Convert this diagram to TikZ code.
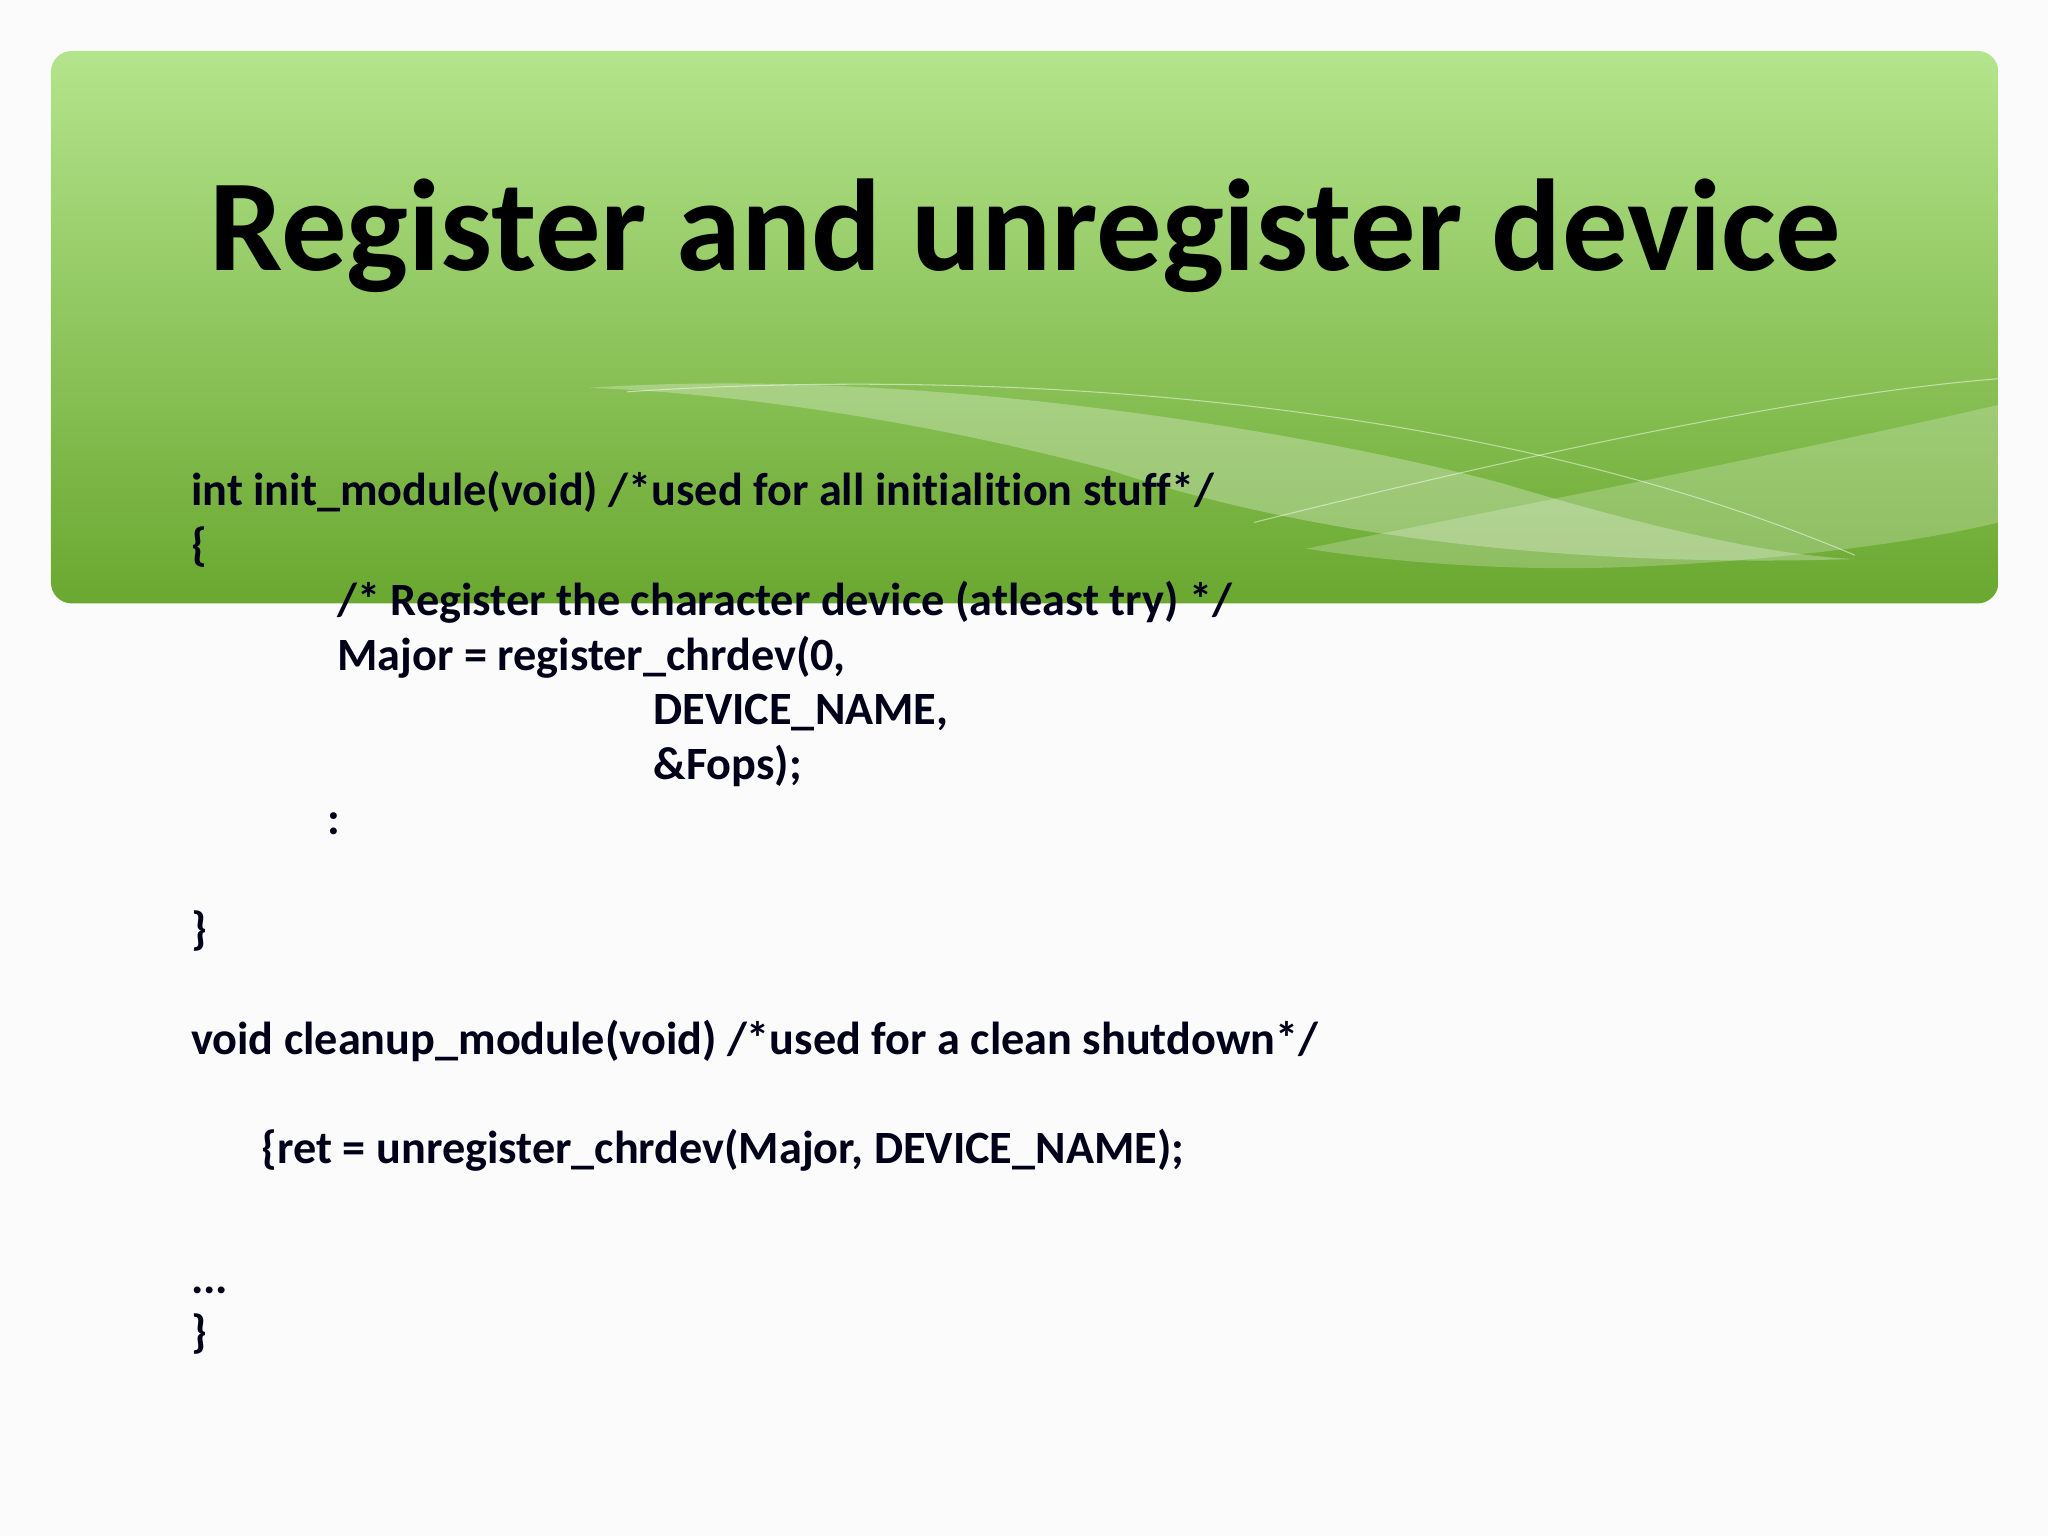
\documentclass[tikz,border=0pt]{standalone}
\usepackage{fontspec}
\setmainfont[RawFeature={-liga}]{Carlito}
\begin{document}
\begin{tikzpicture}[x=0.5pt,y=-0.5pt,
  code/.style={anchor=base west,inner sep=0pt,font=\fontsize{17.7}{21}\selectfont\bfseries,text=black!90!blue}]
\useasboundingbox (0,0) rectangle (1568,1176);
\fill[white!97!gray] (0,0) rectangle (1568,1176);
\definecolor{gtop}{RGB}{180,228,140}
\definecolor{gbot}{RGB}{106,168,48}
\shade[top color=gtop,bottom color=gbot,rounded corners=8pt] (39,39) rectangle (1530,462);
% waves
\begin{scope}
\clip[rounded corners=8pt] (39,39) rectangle (1530,462);
\fill[white,opacity=0.28] (450,297) .. controls (700,280) and (1000,330) .. (1150,370) .. controls (1250,400) and (1350,425) .. (1420,428) .. controls (1200,435) and (1000,410) .. (850,360) .. controls (700,320) and (550,300) .. (450,297) -- cycle;
\fill[white,opacity=0.22] (1000,420) .. controls (1200,380) and (1400,340) .. (1530,310) -- (1530,400) .. controls (1450,420) and (1300,435) .. (1200,435) .. controls (1120,435) and (1050,428) .. (1000,420) -- cycle;
\draw[white,opacity=0.5] (480,300) .. controls (700,285) and (1100,290) .. (1420,425);
\draw[white,opacity=0.5] (960,400) .. controls (1200,340) and (1400,300) .. (1530,290);
\end{scope}
\node[anchor=base west,inner sep=0pt,font=\fontsize{50}{58}\selectfont\bfseries] (title) at (160,207) {Register and unregister device};
\node[code] (l1) at (146,387) {int init\_module(void) /*used for all initialition stuff*/};
\node[code] (l2) at (146,429) {\{};
\node[code] (l3) at (258,471) {/* Register the character device (atleast try) */};
\node[code] (l4) at (258,513) {Major = register\_chrdev(0,};
\node[code] (l5) at (500,555) {DEVICE\_NAME,};
\node[code] (l6) at (500,597) {\&Fops);};
\node[code] (l7) at (250,639) {:};
\node[code] (l8) at (146,723) {\}};
\node[code] (l9) at (146,807) {void cleanup\_module(void) /*used for a clean shutdown*/};
\node[code] (l10) at (200,891) {\{ret = unregister\_chrdev(Major, DEVICE\_NAME);};
\node[code] (l11) at (146,990) {...};
\node[code] (l12) at (146,1032) {\}};
\end{tikzpicture}
\end{document}
